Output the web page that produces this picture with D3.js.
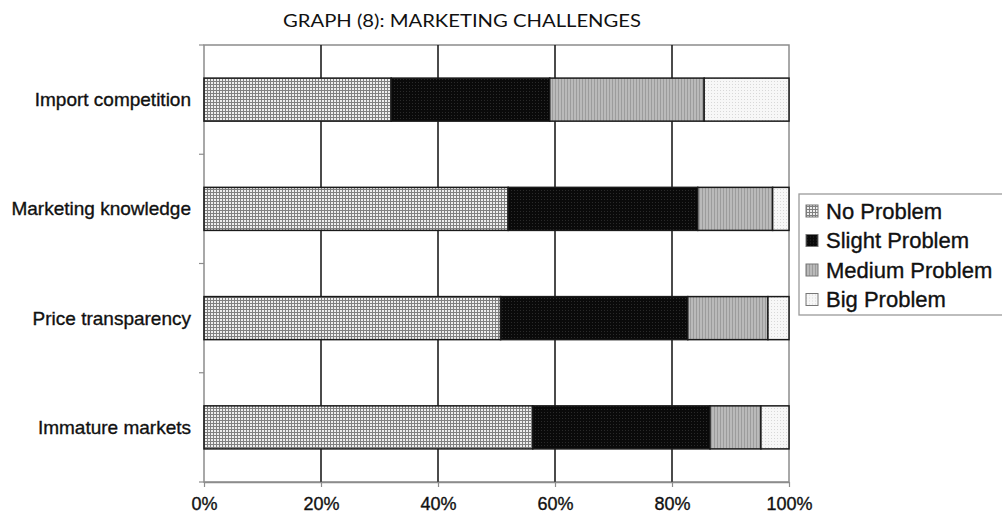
<!DOCTYPE html>
<html>
<head>
<meta charset="utf-8">
<script src="https://cdn.jsdelivr.net/npm/d3@7"></script>
<style>
  html, body { margin: 0; padding: 0; background: #fff; }
  svg { display: block; }
</style>
</head>
<body>
<svg id="chart" width="1002" height="514"></svg>
<script>
// Survey categories (top to bottom) and share of answers per severity level (%)
const categories = ["Import competition", "Marketing knowledge", "Price transparency", "Immature markets"];
const seriesNames = ["No Problem", "Slight Problem", "Medium Problem", "Big Problem"];
const noProblem     = [32.0, 52.0, 50.7, 56.2];
const slightProblem = [27.1, 32.4, 32.0, 30.3];
const mediumProblem = [26.4, 12.8, 13.7,  8.7];
const bigProblem    = [14.5,  2.8,  3.6,  4.8];
const xTicks = [0, 20, 40, 60, 80, 100];

const svg = d3.select("#chart");
const margin = { left: 204, right: 215, top: 45, bottom: 32 };
const W = 1002, H = 514;
const sans = "'Liberation Sans', Arial, sans-serif";

// Fill patterns for each severity level
const defs = svg.append("defs");
const pNo = defs.append("pattern").attr("id", "pat0").attr("patternUnits", "userSpaceOnUse")
  .attr("width", 3).attr("height", 3);
pNo.append("rect").attr("width", 3).attr("height", 3).attr("fill", "#eeeeee");
pNo.append("rect").attr("width", 1).attr("height", 3).attr("fill", "#808080");
pNo.append("rect").attr("width", 3).attr("height", 1).attr("fill", "#808080");

const pSl = defs.append("pattern").attr("id", "pat1").attr("patternUnits", "userSpaceOnUse")
  .attr("width", 3).attr("height", 3);
pSl.append("rect").attr("width", 3).attr("height", 3).attr("fill", "#0a0a0a");
pSl.append("rect").attr("x", 1).attr("y", 1).attr("width", 1).attr("height", 1).attr("fill", "#2a2a2a");

const pMe = defs.append("pattern").attr("id", "pat2").attr("patternUnits", "userSpaceOnUse")
  .attr("width", 3).attr("height", 3);
pMe.append("rect").attr("width", 3).attr("height", 3).attr("fill", "#bababa");
pMe.append("rect").attr("width", 1).attr("height", 3).attr("fill", "#9c9c9c");

const pBg = defs.append("pattern").attr("id", "pat3").attr("patternUnits", "userSpaceOnUse")
  .attr("width", 3).attr("height", 3);
pBg.append("rect").attr("width", 3).attr("height", 3).attr("fill", "#f7f7f7");
pBg.append("rect").attr("width", 1).attr("height", 1).attr("fill", "#d8d8d8");

const fills = ["url(#pat0)", "url(#pat1)", "url(#pat2)", "url(#pat3)"];

// Scales
const x = d3.scaleLinear().domain([0, 100]).range([margin.left, W - margin.right + 2]);
const y = d3.scaleBand().domain(categories).range([margin.top, H - margin.bottom])
  .paddingInner(0.606).paddingOuter(0.303);

// Title
svg.append("text")
  .attr("x", 462).attr("y", 27)
  .attr("text-anchor", "middle")
  .attr("font-family", "Lato, 'Open Sans', sans-serif")
  .attr("font-size", 16.5)
  .attr("fill", "#111")
  .attr("textLength", 358).attr("lengthAdjust", "spacingAndGlyphs")
  .text("GRAPH (8): MARKETING CHALLENGES");

// Plot frame
const x0 = x(0), x1 = x(100), y0 = margin.top, y1 = H - margin.bottom;
svg.append("rect")
  .attr("x", x0).attr("y", y0).attr("width", x1 - x0).attr("height", y1 - y0)
  .attr("fill", "#fff").attr("stroke", "#8c8c8c").attr("stroke-width", 1.5);

// Vertical gridlines
svg.append("g").selectAll("line")
  .data(xTicks.filter(d => d > 0 && d < 100))
  .join("line")
  .attr("x1", d => x(d)).attr("x2", d => x(d))
  .attr("y1", y0).attr("y2", y1)
  .attr("stroke", "#1e1e1e").attr("stroke-width", 1.6);

// Stacked data
const rows = categories.map((c, i) => ({
  category: c,
  "No Problem": noProblem[i],
  "Slight Problem": slightProblem[i],
  "Medium Problem": mediumProblem[i],
  "Big Problem": bigProblem[i]
}));
const stacked = d3.stack().keys(seriesNames)(rows);

svg.append("g").selectAll("g")
  .data(stacked)
  .join("g")
  .attr("fill", (d, i) => fills[i])
  .selectAll("rect")
  .data(d => d)
  .join("rect")
  .attr("x", d => x(d[0]))
  .attr("y", d => y(d.data.category))
  .attr("width", d => x(Math.min(d[1], 100)) - x(d[0]))
  .attr("height", y.bandwidth())
  .attr("stroke", "#1a1a1a").attr("stroke-width", 1.5);

// Left axis: ticks at category boundaries, labels centred on bars
const boundaries = d3.range(categories.length + 1).map(i => margin.top + i * y.step());
svg.append("g").selectAll("line")
  .data(boundaries)
  .join("line")
  .attr("x1", x0 - 5).attr("x2", x0)
  .attr("y1", d => d).attr("y2", d => d)
  .attr("stroke", "#8c8c8c").attr("stroke-width", 1.2);

svg.append("g").selectAll("text")
  .data(categories)
  .join("text")
  .attr("x", 191)
  .attr("y", d => y(d) + y.bandwidth() / 2 + 6.5)
  .attr("text-anchor", "end")
  .attr("font-family", sans)
  .attr("font-size", 19)
  .attr("fill", "#111")
  .attr("stroke", "#111").attr("stroke-width", 0.35)
  .text(d => d);

// Bottom axis
const xAxis = d3.axisBottom(x).tickValues(xTicks).tickFormat(d => d + "%").tickSize(5).tickSizeOuter(0);
const gx = svg.append("g").attr("transform", `translate(0,${y1})`).call(xAxis);
gx.select(".domain").attr("stroke", "#8c8c8c").attr("stroke-width", 1.5);
gx.selectAll(".tick line").attr("stroke", "#8c8c8c").attr("stroke-width", 1.2);
gx.selectAll(".tick text")
  .attr("font-family", sans)
  .attr("font-size", 18)
  .attr("fill", "#111")
  .attr("stroke", "#111").attr("stroke-width", 0.35)
  .attr("dy", "0")
  .attr("y", 28);

// Legend
const lg = svg.append("g").attr("transform", "translate(799,194)");
lg.append("rect").attr("width", 230).attr("height", 121)
  .attr("fill", "#fff").attr("stroke", "#9a9a9a").attr("stroke-width", 1.3);
const item = lg.selectAll("g.item")
  .data(seriesNames)
  .join("g").attr("class", "item")
  .attr("transform", (d, i) => `translate(7,${9 + i * 29.5})`);
item.append("rect")
  .attr("width", 12).attr("height", 12).attr("y", 2)
  .attr("fill", (d, i) => fills[i])
  .attr("stroke", "#777").attr("stroke-width", 1);
item.append("text")
  .attr("x", 20).attr("y", 15.5)
  .attr("font-family", sans)
  .attr("font-size", 22)
  .attr("fill", "#111")
  .attr("stroke", "#111").attr("stroke-width", 0.35)
  .text(d => d);
</script>
</body>
</html>
